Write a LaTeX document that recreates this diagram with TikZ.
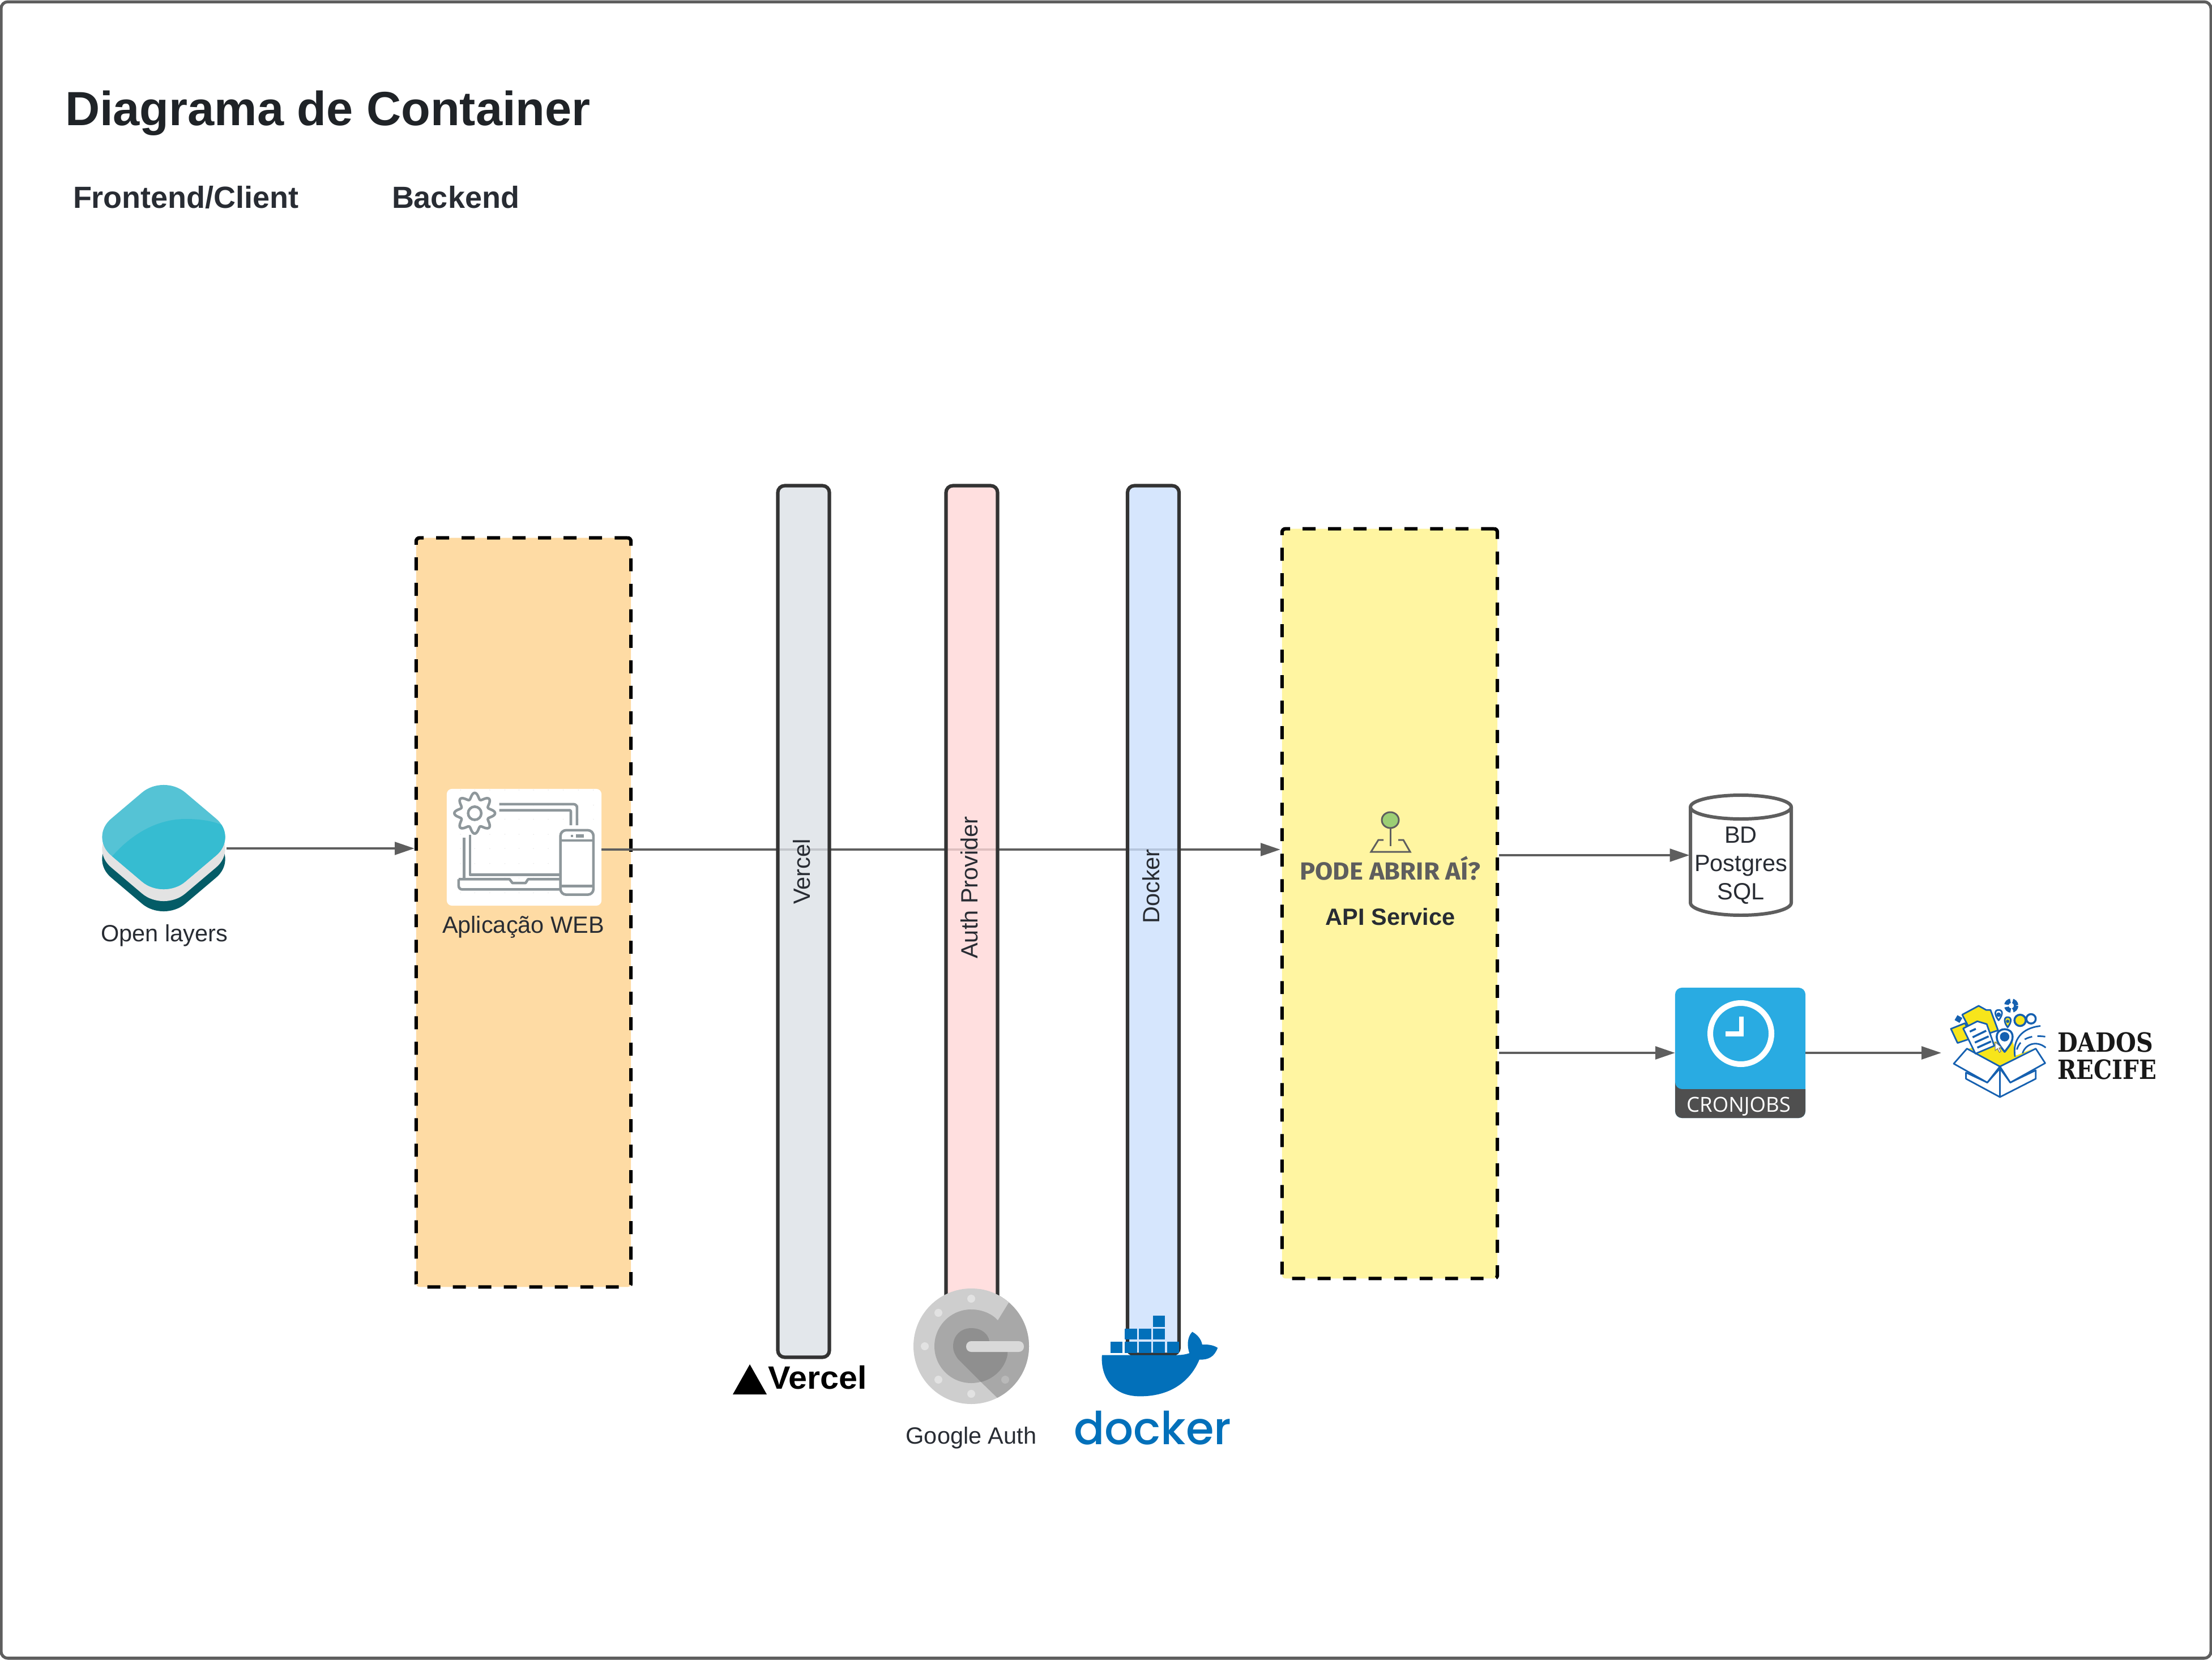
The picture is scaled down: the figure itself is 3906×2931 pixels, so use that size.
\documentclass[tikz,border=0pt]{standalone}
\usepackage{fontspec}
\usepackage{graphicx}
\setmainfont{Liberation Sans}
\newfontfamily\firaf{Fira Sans}
\newfontfamily\popf{Poppins Medium}
\newfontfamily\openf{Open Sans}
\newfontfamily\slabf{DejaVu Serif}
\usetikzlibrary{arrows.meta,calc}
\definecolor{ink}{HTML}{282C33}
\definecolor{titleink}{HTML}{1F2327}
\definecolor{conn}{HTML}{5E5E5E}
\definecolor{barline}{HTML}{333333}
\definecolor{dockerb}{HTML}{0270BA}
\definecolor{drblue}{HTML}{1560B0}
\definecolor{dryel}{HTML}{F7E51B}
\definecolor{iconc}{HTML}{8E979B}
\newcommand{\labsize}{\fontsize{11.8}{14.2}\selectfont}
\tikzset{
  lab/.style={inner sep=0pt,outer sep=0pt,text=ink,anchor=base,font=\labsize},
  zonebox/.style={draw=black,line width=1.75pt,dash pattern=on 6.5pt off 6.3pt,rounded corners=0.06cm,inner sep=0pt},
  barbox/.style={draw=barline,line width=1.75pt,rounded corners=0.12cm,inner sep=0pt,fill opacity=.8,draw opacity=1,text opacity=1},
  ghost/.style={inner sep=0pt,outer sep=0pt},
  link/.style={draw=conn,line width=1.14pt,-{Triangle[length=9.9pt,width=6.4pt]}},
  appline/.style={draw=iconc,line width=1.3pt,line join=round},
  drline/.style={draw=drblue,line width=.8pt,line join=round},
  whaleblock/.style={fill=dockerb},
}
\begin{document}
\begin{tikzpicture}[x=0.01cm,y=-0.01cm]
\useasboundingbox (0,0) rectangle (3906,2931);
\fill[white] (0,0) rectangle (3906,2931);
\node[ghost,draw=conn,line width=1.5pt,rounded corners=0.12cm,minimum width=39.0cm,minimum height=29.23cm] (frame) at (1953,1465.5) {};

% titles
\node[lab,anchor=base west,text=titleink,font=\fontsize{24.1}{28}\bfseries\selectfont] (title) at (115,222) {Diagrama de Container};
\node[lab,anchor=base west,font=\fontsize{15.35}{18}\bfseries\selectfont] (front) at (129,368) {Frontend/Client};
\node[lab,anchor=base west,font=\fontsize{15.35}{18}\bfseries\selectfont] (back) at (692,368) {Backend};

% zones
\node[zonebox,fill={rgb,255:red,254;green,219;blue,164},minimum width=3.79cm,minimum height=13.22cm] (webzone) at (924.5,1611) {};
\node[zonebox,fill={rgb,255:red,255;green,245;blue,161},minimum width=3.80cm,minimum height=13.23cm] (api) at (2454,1595.5) {};

% open layers icon
\node[ghost,minimum width=2.22cm,minimum height=2.2cm] (ol) at (289,1498) {};
\fill[rounded corners=0.5cm,fill={rgb,255:red,4;green,92;blue,103}] (289,1405)--(420,1517)--(289,1628)--(158,1517)--cycle;
\fill[rounded corners=0.5cm,fill={rgb,255:red,227;green,227;blue,227}] (289,1387)--(420,1499)--(289,1610)--(158,1499)--cycle;
\fill[rounded corners=0.5cm,fill={rgb,255:red,85;green,195;blue,213}] (289,1367)--(420,1478)--(289,1589)--(158,1478)--cycle;
\begin{scope}
\clip[rounded corners=0.5cm] (289,1367)--(420,1478)--(289,1589)--(158,1478)--cycle;
\fill[fill={rgb,255:red,54;green,188;blue,209}] (198,1512) .. controls (235,1470) and (280,1446) .. (328,1446) .. controls (355,1446) and (378,1450) .. (395,1458) -- (430,1600) -- (190,1600) -- cycle;
\end{scope}
\node[lab] (ollabel) at (290,1662) {Open layers};

% web app icon
\node[ghost,fill=white,rounded corners=0.09cm,minimum width=2.73cm,minimum height=2.06cm] (web) at (925.5,1496) {};
\begin{scope}[shift={(780,1380)},x=0.00333cm,y=-0.00333cm]
\foreach \gx in {100,175,255,335,410,487,565,645,725,805}
  \foreach \gy in {45,125,200,280,355,435,512,590}
    \fill[black!7] (\gx,\gy) circle[radius=3];
\draw[appline] plot[domain=0:360,samples=145,smooth] ({175+(92+16*cos(8*\x))*cos(\x)},{168+(92+16*cos(8*\x))*sin(\x)}) -- cycle;
\draw[appline] (175,168) circle[radius=35];
\draw[appline,rounded corners=0.06cm] (305,120)--(718,120)--(718,232);
\draw[appline,rounded corners=0.02cm] (305,152)--(685,152)--(685,232);
\draw[appline] (118,298)--(118,515);
\draw[appline] (150,282)--(150,495)--(625,495);
\draw[appline,rounded corners=0.06cm] (625,572)--(90,572)--(90,518);
\draw[appline] (90,518)--(360,518)--(375,538)--(445,538)--(458,518)--(625,518);
\draw[appline,fill=white,rounded corners=0.1cm] (630,258) rectangle (805,600);
\draw[appline] (630,312)--(805,312);
\draw[appline] (630,555)--(805,555);
\fill[iconc] (685,282) rectangle (697,295);
\fill[iconc] (712,280) rectangle (755,296);
\end{scope}
\node[lab] (weblabel) at (924,1647) {Aplicação WEB};

% connectors
\coordinate (mainy) at (0,1500);
\draw[link] (ol.east) -- (webzone.west |- ol.east);
\draw[link] (web.east |- mainy) -- (api.west |- mainy);

% bars
\node[barbox,fill={rgb,255:red,221;green,225;blue,231},minimum width=0.91cm,minimum height=15.38cm] (vercelbar) at (1419,1627) {};
\node[barbox,fill={rgb,255:red,255;green,216;blue,216},minimum width=0.91cm,minimum height=14.82cm] (authbar) at (1716,1599) {};
\node[barbox,fill={rgb,255:red,204;green,224;blue,253},minimum width=0.91cm,minimum height=15.33cm] (dockerbar) at (2036.5,1624.5) {};
\node[lab,rotate=90] (vercellabel) at (1430,1539) {Vercel};
\node[lab,rotate=90] (authlabel) at (1726,1567) {Auth Provider};
\node[lab,rotate=90] (dockerlabel) at (2047,1565) {Docker};

% vercel logo
\fill[black] (1324,2409)--(1354,2462)--(1294,2462)--cycle;
\node[lab,anchor=base west,text=black,font=\fontsize{16.2}{18}\bfseries\selectfont] (vercellogo) at (1356,2452) {\scalebox{1.04}[1]{Vercel}};

% google auth icon
\fill[fill={rgb,255:red,206;green,206;blue,206}] (1715,2377) circle[radius=102];
\begin{scope}
\clip (1715,2377) circle[radius=102];
\fill[fill={rgb,255:red,168;green,168;blue,168}] (1715,2312) arc[start angle=-90,end angle=-30,x radius=65,y radius=-65] -- (1800,2280) -- (1830,2377) -- (1790,2500) -- (1761,2468) -- (1732,2440) -- cycle;
\fill[fill={rgb,255:red,168;green,168;blue,168}] (1715,2377) circle[radius=65];
\fill[fill={rgb,255:red,206;green,206;blue,206}] (1762,2331) -- (1786,2292) -- (1760,2270) -- (1715,2280) -- (1715,2312) .. controls (1735,2312) and (1752,2320) .. (1762,2331) -- cycle;
\fill[fill={rgb,255:red,143;green,143;blue,143}] (1683,2377) .. controls (1683,2358) and (1697,2345) .. (1715,2345) .. controls (1733,2345) and (1745,2355) .. (1747,2368) -- (1779,2368) -- (1779,2392) .. controls (1775,2415) and (1755,2435) .. (1732,2440) -- (1692,2400) .. controls (1686,2392) and (1683,2385) .. (1683,2377) -- cycle;
\end{scope}
\fill[fill={rgb,255:red,217;green,217;blue,217},rounded corners=0.09cm] (1706,2368) rectangle (1808,2387);
\foreach \dotx/\doty in {1715/2293,1657/2318,1633/2377,1657/2436,1715/2461}
  \fill[fill={rgb,255:red,226;green,226;blue,226}] (\dotx,\doty) circle[radius=7];
\fill[fill={rgb,255:red,185;green,185;blue,185}] (1775,2436) circle[radius=7];
\node[lab] (googlelabel) at (1715,2549) {Google Auth};

% docker logo
\begin{scope}[shift={(1850,2290)},x=0.00333cm,y=-0.00333cm]
\foreach \bx/\by in {558/100,410/168,485/168,558/168,333/238,410/238,485/238,558/238,633/238}
  \fill[whaleblock] (\bx,\by) rectangle ++(65,58);
\fill[dockerb] (288,308) -- (690,308) .. controls (715,308) and (735,304) .. (752,298) .. controls (740,265) and (738,215) .. (767,185) .. controls (795,200) and (815,225) .. (820,253) .. controls (855,250) and (885,258) .. (902,270) .. controls (885,315) and (855,335) .. (805,332) .. controls (760,440) and (660,527) .. (490,527) .. controls (340,527) and (280,420) .. (288,308) -- cycle;
\end{scope}
\node[lab,anchor=base west,text=dockerb,font=\popf\fontsize{22.8}{28}\selectfont] (dockerlogo) at (1896,2550) {docker};

% api icon + labels
\draw[draw=conn,line width=.85pt] (2443,1483)--(2434,1483)--(2421,1504)--(2490,1504)--(2478,1483)--(2469,1483);
\draw[draw=conn,line width=.85pt] (2455,1462)--(2455,1494);
\draw[draw=conn,line width=.85pt,fill={rgb,255:red,156;green,207;blue,116}] (2455,1448) ellipse[x radius=15,y radius=14];
\node[lab,text=conn,font=\firaf\bfseries\fontsize{12.4}{14}\selectfont] (podelabel) at (2455,1553) {\scalebox{1.04}[1]{PODE ABRIR AÍ?}};
\node[lab,font=\labsize\bfseries] (apilabel) at (2455,1633) {API Service};

% database
\node[ghost,minimum width=1.81cm,minimum height=2.15cm] (db) at (3074,1510) {};
\draw[draw=conn,line width=1.7pt,fill=white] (2985,1425) -- (2985,1594) arc[start angle=180,end angle=360,x radius=89,y radius=-22] -- (3163,1425);
\draw[draw=conn,line width=1.7pt,fill=white] (3074,1425) ellipse[x radius=89,y radius=21];
\node[lab] (dbl1) at (3074,1488) {BD};
\node[lab] (dbl2) at (3074,1538) {Postgres};
\node[lab] (dbl3) at (3074,1588) {SQL};
\draw[link] (api.east |- db.west) -- (db.west);

% cronjobs
\node[ghost,fill={rgb,255:red,41;green,171;blue,226},rounded corners=0.12cm,minimum width=2.30cm,minimum height=2.30cm] (cron) at (3073,1859) {};
\fill[fill={rgb,255:red,79;green,79;blue,79},rounded corners=0.12cm] (2958,1923) [sharp corners] -- (3188,1923) [rounded corners=0.12cm] -- (3188,1974) -- (2958,1974) -- (2958,1923) -- cycle;
\fill[fill={rgb,255:red,79;green,79;blue,79}] (2958,1923) rectangle (3188,1940);
\draw[white,line width=2.85pt] (3074,1825) circle[radius=54];
\fill[white] (3071,1795) rectangle (3079,1830);
\fill[white] (3047,1821) rectangle (3079,1830);
\node[lab,text=white,font=\openf\fontsize{10.4}{12}\selectfont] (cronlabel) at (3070,1963) {CRONJOBS};
\coordinate (dadosin) at (3428,1859);
\draw[link] (api.east |- cron.west) -- (cron.west);
\draw[link] (cron.east) -- (dadosin);

% dados recife logo
\begin{scope}[shift={(3420,1740)},x=0.00333cm,y=-0.00333cm]
\fill[dryel] (170,335)--(300,300)--(400,290)--(425,370)--(510,335)--(335,430)--cycle;
\draw[drline,fill=white] (415,378) .. controls (400,290) and (450,225) .. (550,215);
\draw[drline,dash pattern=on 4pt off 2.6pt] (425,340) .. controls (440,285) and (500,255) .. (595,275);
\draw[drline] (455,360) .. controls (470,310) and (530,290) .. (578,330);
\draw[drline,fill=white] (335,592)--(155,495)--(155,462)--(268,515)--(335,440)--cycle;
\draw[drline,fill=white] (335,592)--(525,495)--(525,450)--(390,515)--(335,440)--cycle;
\draw[drline,fill=white] (335,430)--(160,335)--(90,415)--(268,515)--cycle;
\draw[drline,fill=white] (335,430)--(525,335)--(575,412)--(390,515)--cycle;
\draw[drline,fill=dryel] (135,155)--(222,108)--(262,130)--(285,130)--(325,238)--(200,280)--cycle;
\draw[drline,fill=dryel] (75,230)--(150,200)--(185,280)--(110,305)--cycle;
\fill[drblue,rotate around={-30:(115,178)}] (100,163) rectangle (130,193);
\draw[drline,fill=white] (140,228)--(215,190)--(265,205)--(305,320)--(205,362)--cycle;
\draw[drline,line width=1pt] (175,245)--(207,230);
\draw[drline,line width=1pt] (190,275)--(262,240);
\draw[drline,line width=1pt] (202,303)--(275,270);
\draw[drline,line width=1pt] (215,330)--(288,297);
\draw[drline,fill=white] (328,185) .. controls (305,155) and (305,130) .. (328,130) .. controls (352,130) and (352,155) .. (328,185) -- cycle;
\fill[drblue] (328,155) circle[radius=12];
\draw[drline,fill=dryel] (376,222) .. controls (355,195) and (355,168) .. (376,168) .. controls (398,168) and (398,195) .. (376,222) -- cycle;
\fill[drblue] (376,190) circle[radius=9];
\draw[drline,fill=dryel,line width=1pt] (442,185) circle[radius=30];
\draw[drline,fill=white,line width=1pt] (500,177) circle[radius=25];
\draw[drline,fill=white,line width=1pt] (360,352) .. controls (335,320) and (318,300) .. (318,272) .. controls (318,245) and (340,232) .. (360,232) .. controls (382,232) and (402,245) .. (402,272) .. controls (402,300) and (385,320) .. (360,352) -- cycle;
\fill[drblue] (360,272) circle[radius=25];
\draw[drblue,line width=2.2pt,dash pattern=on 2.9pt off 1.2pt] (395,107) circle[radius=26];
\draw[draw=black!55,fill=white,line width=.3pt] (310,300)--(310,345)--(322,335)--(332,355)--(340,350)--(330,332)--(342,328)--cycle;
\end{scope}
\node[lab,anchor=base west,text=black!90,font=\slabf\bfseries\fontsize{13.3}{15}\selectfont] (dados1) at (3633,1857) {\scalebox{.88}[1]{DADOS}};
\node[lab,anchor=base west,text=black!90,font=\slabf\bfseries\fontsize{13.3}{15}\selectfont] (dados2) at (3633,1905) {\scalebox{.865}[1]{RECIFE}};
\end{tikzpicture}
\end{document}
